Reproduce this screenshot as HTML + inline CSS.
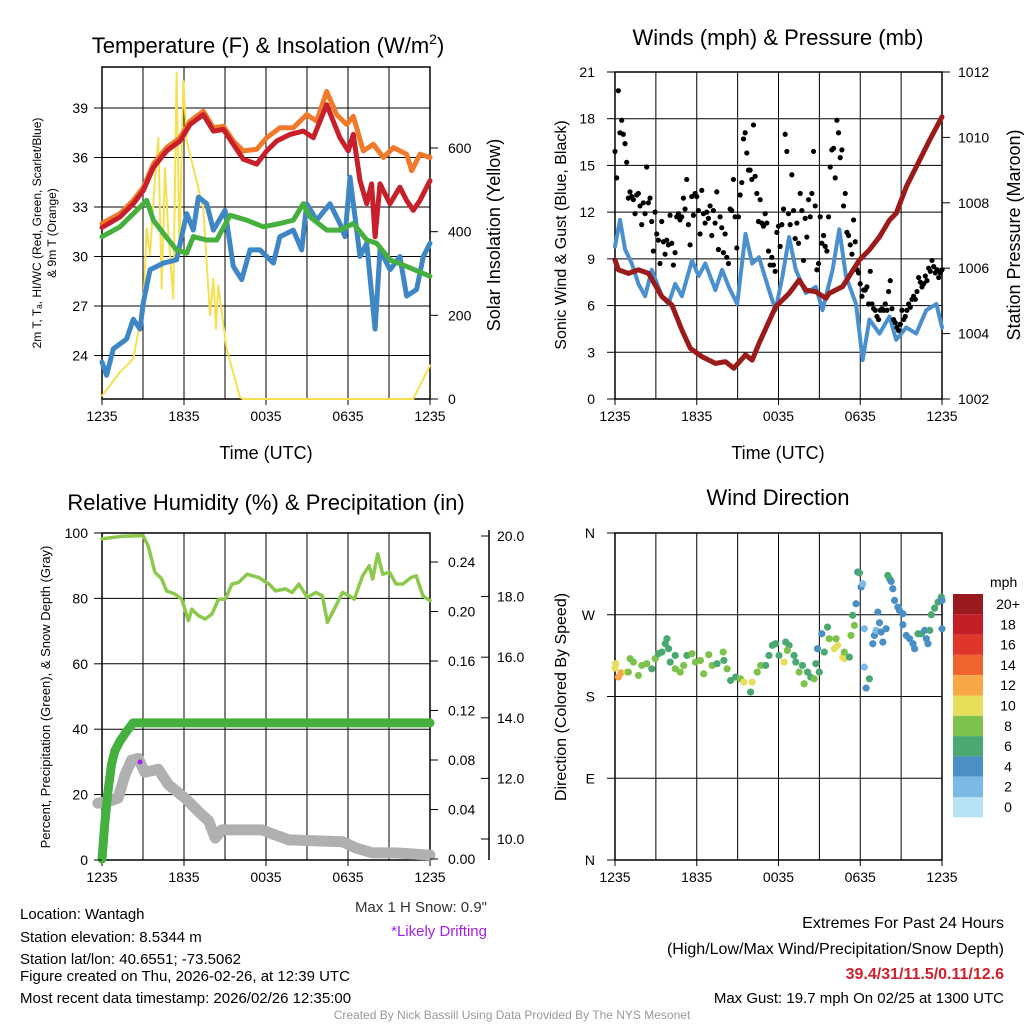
<!DOCTYPE html>
<html><head><meta charset="utf-8"><style>
html,body{margin:0;padding:0;background:#fff;}
svg{display:block;font-family:"Liberation Sans",sans-serif;}
</style></head><body>
<svg id="chart" width="1024" height="1024" viewBox="0 0 1024 1024" xmlns="http://www.w3.org/2000/svg">
<g id="g1"></g>
<g id="g2"></g>
<g id="g3"></g>
<g id="g4"></g>
<g id="txt" font-size="15" fill="#000">
<text x="20" y="919">Location: Wantagh</text>
<text x="20" y="942">Station elevation: 8.5344 m</text>
<text x="20" y="964">Station lat/lon: 40.6551; -73.5062</text>
<text x="20" y="981">Figure created on Thu, 2026-02-26, at 12:39 UTC</text>
<text x="20" y="1003">Most recent data timestamp: 2026/02/26 12:35:00</text>
<text x="487" y="912" text-anchor="end" fill="#333">Max 1 H Snow: 0.9"</text>
<text x="487" y="936" text-anchor="end" fill="#a020f0">*Likely Drifting</text>
<text x="1004" y="928" text-anchor="end" font-size="16">Extremes For Past 24 Hours</text>
<text x="1004" y="954" text-anchor="end" font-size="16">(High/Low/Max Wind/Precipitation/Snow Depth)</text>
<text x="1004" y="979" text-anchor="end" font-size="16" font-weight="bold" fill="#d0202a">39.4/31/11.5/0.11/12.6</text>
<text x="1004" y="1003" text-anchor="end">Max Gust: 19.7 mph On 02/25 at 1300 UTC</text>
<text x="512" y="1019" text-anchor="middle" font-size="12" fill="#999">Created By Nick Bassill Using Data Provided By The NYS Mesonet</text>
</g>
</svg>
<script>
// ---------- data ----------
const xTickLabels = ["1235","1835","0035","0635","1235"];
// Panel 1 (hours since 1235 UTC)
const redHours = [0,1.32,2.29,3.02,3.76,4.73,5.71,6.44,7.41,8.15,8.88,9.61,10.34,11.32,12.05,12.78,13.76,14.73,15.46,16.44,17.41,18.02,18.39,18.88,19.37,19.73,19.98,20.34,21.07,21.8,22.29,22.78,23.27,24];
const tempRed = [31.76,32.4,33.2,34,35.4,36.4,37,38,38.6,37.6,37.7,36.8,35.9,35.6,36.4,37,37.4,37.6,37.2,39.2,37.2,36.4,37.4,34.6,33.2,34.4,31.2,34.4,33.2,34.2,33.4,32.8,33.4,34.6];
const orangeHours = [0,1.32,2.29,3.02,3.76,4.73,5.71,6.44,7.41,8.15,8.88,9.61,10.34,11.32,12.05,13.02,14,14.98,15.71,16.44,17.17,17.9,18.39,19.12,19.85,20.59,21.32,22.29,22.66,23.27,24];
const temp9mOrange = [32,32.6,33.4,34.2,35.6,36.6,37.2,38.2,38.8,37.8,37.9,37.0,36.4,36.5,37.2,37.8,37.8,38.6,38.2,40,38.6,38,38.5,36.4,36.8,36,36.6,36.2,35.2,36.2,36];
const greenHours = [0,1.32,2.54,3.27,3.76,4.49,5.46,6.2,6.68,7.66,8.39,9.37,10.59,11.8,13.02,14,14.73,15.22,16.44,17.41,18.39,19.37,20.1,21.07,22.29,24];
const dewGreen = [31.2,31.8,32.8,33.4,32.2,31.4,30.4,30.2,31.2,31,31,32.5,32.2,31.8,32,32.2,33.2,32.4,31.6,31.6,32,31,30.8,29.8,29.4,28.8];
const blueHours = [0,0.34,0.83,1.8,2.29,2.78,3.02,3.51,4.49,5.46,6.2,6.68,7.05,7.66,8.15,9,9.61,10.22,10.83,11.56,12.54,13.02,14,14.61,14.98,15.71,16.68,17.41,17.78,18.15,18.88,19.37,19.98,20.34,21.07,21.8,22.29,23.02,23.51,24];
const wcBlue = [23.6,22.8,24.4,25,26.2,25.6,27.2,29.2,29.6,29.8,32.6,31.6,33.6,33.2,31.6,32.8,29.4,28.6,30.4,30.4,29.6,31.2,31.6,30.4,33.2,32.2,33.2,32,31.2,34.8,30,30.8,25.6,30.4,29.2,30,27.6,28,30,30.8];
const solarHours = [0,1.32,2.29,3.02,3.27,3.51,3.88,4.12,4.37,4.61,4.85,5.22,5.46,5.66,5.95,6.2,6.93,7.41,7.9,8.15,8.34,8.51,9.12,10.1,10.34,22.78,24];
const solarVals = [8,64,96,224,408,344,528,624,264,552,400,240,780,352,760,616,520,456,200,288,168,272,120,4,0,0,80];
const tempTicks = [24,27,30,33,36,39];
const solarTicks = [0,200,400,600];
// Panel 2
const windHours = [0,0.37,0.74,1.23,1.72,2.21,2.7,3.44,3.93,4.42,4.91,5.65,6.14,6.63,7.37,7.86,8.35,8.97,9.58,10.07,10.57,11.3,11.79,12.29,12.78,13.27,14,14.74,15.23,15.97,16.46,16.95,17.69,18.18,18.67,19.41,20.15,20.64,21.38,22.11,22.85,23.59,24];
const windSpeed = [9.8,11.5,9.6,8.7,7.4,6.6,8.3,6.6,6.1,7.4,6.6,8.9,7.9,8.7,7,8.3,7.2,6.1,10.6,8.7,9.1,7,5.7,7.9,10.4,8.3,6.8,7.2,5.7,8.3,10.9,7.9,6.1,2.5,5.1,4.2,5.3,3.8,4.6,4.2,5.7,6.1,4.6];
const gustStartHour = 0;
const gustStepHours = 24/196;
const gustVals = [15.9,14.2,19.8,17.1,17.9,17.0,16.4,15.2,12.9,13.3,13.0,12.8,11.9,13.1,13.2,12.4,11.2,12.6,11.9,14.9,12.6,12.9,11.4,9.5,12.0,10.6,10.2,8.7,11.4,10.1,9.3,10.2,9.9,11.8,10.0,8.6,9.4,11.7,11.9,11.5,11.7,12.9,12.2,14.1,11.2,9.9,13.0,11.8,13.2,13.0,12.1,10.6,13.4,11.9,11.3,12.0,11.6,12.4,10.5,12.1,11.3,13.3,9.6,11.7,11.0,9.4,10.6,9.1,8.7,12.2,12.1,14.1,11.7,9.7,11.7,13.1,13.9,16.7,17.1,15.8,14.7,14.7,14.1,17.6,14.3,13.2,11.4,12.8,11.3,11.1,11.9,11.3,9.5,8.6,9.1,8.6,8.2,10.7,11.1,9.8,11.2,12.2,17.0,15.9,11.9,11.2,14.4,12.1,10.3,11.3,10.0,13.2,12.1,8.9,11.6,10.4,12.8,11.7,13.2,15.9,12.4,8.3,8.7,11.7,10.0,10.5,9.8,9.5,11.7,14.9,16.0,16.1,14.2,17.9,17.1,15.5,16.0,12.4,13.2,10.7,10.5,9.9,9.3,11.5,10.1,8.3,8.1,7.4,6.6,7.0,7.0,7.2,6.1,8.2,6.1,5.8,5.7,5.3,5.1,5.7,5.8,5.7,6.1,5.7,6.9,7.6,5.8,5.1,4.9,4.6,4.4,4.8,5.7,5.1,5.3,5.7,6.1,5.9,6.4,6.6,6.4,6.9,7.8,7.5,7.2,7.4,7.9,7.6,8.4,8.2,8.9,8.5,8.1,8.3,7.8,8.1,8.3];
const presHours = [0,0.25,0.98,1.72,2.46,3.44,4.18,4.91,5.53,6.39,7.37,8.11,8.72,9.58,10.07,10.57,11.79,12.78,13.51,14,14.74,15.48,15.72,16.71,17.94,18.67,19.41,20.15,20.64,21.38,22.36,23.1,24];
const pressure = [1006.25,1005.95,1005.84,1005.95,1005.84,1005.13,1004.87,1004.11,1003.55,1003.29,1003.09,1003.14,1002.94,1003.35,1003.19,1003.7,1004.82,1005.23,1005.64,1005.33,1005.28,1005.08,1005.23,1005.44,1006.25,1006.56,1006.96,1007.47,1007.68,1008.49,1009.31,1009.92,1010.63];
const windTicks = [0,3,6,9,12,15,18,21];
const presTicks = [1002,1004,1006,1008,1010,1012];
// Panel 3
const rhHours = [0,1.42,3.01,3.38,3.87,4.36,4.73,5.34,5.83,6.32,6.57,7.06,7.55,8.04,8.53,9.02,9.51,10,10.61,11.47,12.21,12.7,13.43,13.92,14.41,15.02,15.64,16.13,16.49,16.99,17.6,18.09,18.46,19.07,19.56,19.8,20.17,20.54,21.03,21.52,22.01,22.62,22.99,23.48,24];
const rhVals = [98.2,99,99.2,96,88,86,82.3,81.3,79.8,73.2,76.7,74.7,73.7,75.2,79.8,79.8,84.4,84.9,87.4,86.4,84.4,82.3,82.9,81.8,84.4,80.3,81.8,80.8,72.7,76.7,81.8,80.8,79.8,86.9,90,85.9,93.6,87.4,88,84.4,84.4,86.4,86.9,80.8,79.3];
const precipHours = [0,0.2,0.44,0.69,0.93,1.3,1.79,2.28,24];
const precipVals = [0,0.028,0.055,0.076,0.087,0.095,0.103,0.11,0.11];
const snowHours = [-0.3,0.44,1.18,1.67,2.16,2.65,3.14,4.12,4.85,6.08,7.3,7.8,8.28,8.77,11.7,12.7,13.7,17.6,18.6,19.8,21.5,24];
const snowVals = [11.18,11.23,11.35,12.1,12.6,12.66,12.2,12.3,11.8,11.35,10.8,10.6,10.03,10.3,10.3,10.13,9.97,9.91,9.7,9.54,9.54,9.47];
const rhTicks = [0,20,40,60,80,100];
const precipTicks = [0,0.04,0.08,0.12,0.16,0.20,0.24];
const snowTicks = [10,12,14,16,18,20];
// Panel 4
const dirHours = [0,0.05,0.25,0.44,0.86,0.98,1.11,1.35,1.72,1.97,2.33,2.7,2.95,3.19,3.44,3.69,3.81,3.93,4.05,4.42,4.42,4.79,5.04,5.28,5.65,5.9,6.27,6.51,6.88,7.13,7.49,7.94,7.99,8.23,8.48,8.85,9.21,9.46,9.95,10.07,10.44,10.69,11.06,11.3,11.55,11.79,12.04,12.41,12.53,12.78,12.65,13.14,13.27,13.51,13.76,13.88,14.13,14.37,14.62,14.74,14.86,14.99,15.18,15.36,15.6,15.72,16.09,16.22,16.34,16.71,16.83,16.83,17.2,17.32,17.57,17.44,17.69,17.81,17.94,18.06,18.18,18.3,18.3,18.43,18.67,19.04,18.92,19.16,19.29,19.41,19.53,19.66,19.9,20.02,20.15,20.27,20.39,20.52,20.76,20.88,21.13,21.13,21.38,21.62,21.87,21.99,22.24,22.48,22.73,22.85,22.97,23.1,23.22,23.46,23.71,23.95,24,24];
const dirDeg = [211.3,216.1,201.4,206.1,206.9,206.9,221.6,217.9,203.2,214.2,216.1,210.5,221.6,227.1,228.9,238.1,243.6,232.6,217.9,225.2,210.5,206.9,214.2,225.2,227.1,217.9,219.7,205.0,226.0,214.2,216.1,228.9,219.7,210.5,197.7,201.4,199.5,195.9,184.9,195.9,206.9,214.2,214.2,225.2,236.3,238.1,225.2,217.9,239.9,236.3,230.7,225.2,217.9,206.9,214.2,194.0,206.9,201.4,199.5,216.1,232.6,206.9,249.1,228.9,256.4,243.6,232.6,243.6,236.3,223.4,221.6,228.9,223.4,247.2,258.3,269.3,282.1,317.0,316.2,300.5,304.1,254.6,212.4,189.3,199.5,247.2,238.1,252.8,272.9,261.2,250.9,239.9,254.6,313.3,309.6,306.7,298.6,285.8,278.4,274.8,271.1,259.0,247.2,243.6,238.1,232.6,249.1,249.1,252.8,243.6,238.1,252.8,270.0,277.3,283.9,289.5,254.6,285.8];
const dirSpeed = [10,10,12,12,10,8,8,8,8,8,8,6,8,6,6,6,6,6,6,6,8,8,8,6,8,8,8,8,8,8,6,8,6,8,6,6,8,10,6,10,8,8,6,6,6,6,6,10,6,6,8,6,6,8,6,8,6,6,8,6,4,6,4,6,6,8,10,8,10,10,10,8,6,8,8,6,4,4,6,4,2,2,2,4,6,4,4,2,4,4,4,4,4,6,6,4,4,4,4,4,4,4,4,4,4,4,6,6,4,4,4,6,6,6,6,6,4,4];
const cbLabels = ["20+","18","16","14","12","10","8","6","4","2","0"];
const cbColors = ["#9b1a1f","#c21f27","#e0352b","#f0632c","#f7a648","#e7df5b","#7dc24c","#4aa870","#4a8fc6","#7cb9e4","#b8e2f6"];

// ---------- helpers ----------
const NS="http://www.w3.org/2000/svg";
function mk(parent,tag,attrs,text){const e=document.createElementNS(NS,tag);for(const k in attrs)e.setAttribute(k,attrs[k]);if(text!==undefined)e.textContent=text;parent.appendChild(e);return e;}
function lin(d0,d1,r0,r1){return v=>r0+(v-d0)*(r1-r0)/(d1-d0);}
function frame(g,x0,x1,y0,y1,yTicksPos){
  for(let i=0;i<=8;i++){const x=x0+(x1-x0)*i/8;
    const l=mk(g,'line',{x1:x,x2:x,y1:y0,y2:y1,stroke:'#000','stroke-width':1});
    
    }
  yTicksPos.forEach(y=>{const l=mk(g,'line',{x1:x0,x2:x1,y1:y,y2:y,stroke:'#000','stroke-width':1});
    
    });
  const r=mk(g,'rect',{x:x0,y:y0,width:x1-x0,height:y1-y0,fill:'none',stroke:'#000','stroke-width':1.5});
  
  
  xTickLabels.forEach((s,i)=>{const x=x0+(x1-x0)*i/4;
    const t=mk(g,'text',{x:x,y:y1+22,'font-size':14,'text-anchor':'middle'},s);
    
    
    mk(g,'line',{x1:x,x2:x,y1:y1,y2:y1+6,stroke:'#000'});});
}
function poly(g,xs,ys,sx,sy,color,w,name){
  const pts=xs.map((h,i)=>sx(h).toFixed(1)+','+sy(ys[i]).toFixed(1)).join(' ');
  const p=mk(g,'polyline',{points:pts,fill:'none',stroke:color,'stroke-width':w,'stroke-linejoin':'round','stroke-linecap':'round'});
  
  
  return p;
}
function txt(g,x,y,s,attrs,name){const t=mk(g,'text',Object.assign({x:x,y:y},attrs),s);
  
  return t;}

// ---------- Panel 1 ----------
(function(){
 const g=document.getElementById('g1');
 const X0=102,X1=430,Y0=67,Y1=399;
 const sx=lin(0,24,X0,X1), sy=lin(24,39,355.5,108), ss=lin(0,600,399,148);
 frame(g,X0,X1,Y0,Y1,tempTicks.map(sy));
 poly(g,solarHours,solarVals,sx,ss,'#f5e050',2,'solar-line');
 poly(g,blueHours,wcBlue,sx,sy,'#3f86c4',5,'windchill-line');
 poly(g,greenHours,dewGreen,sx,sy,'#45b03e',5,'dewpoint-line');
 poly(g,orangeHours,temp9mOrange,sx,sy,'#f07a2a',5,'temp-9m-line');
 poly(g,redHours,tempRed,sx,sy,'#c8202a',5,'temp-2m-line');
 tempTicks.forEach(v=>{txt(g,X0-14,sy(v)+5,String(v),{'font-size':14,'text-anchor':'end'},'y-tick-label');mk(g,'line',{x1:X0-8,x2:X0,y1:sy(v),y2:sy(v),stroke:'#000'});});
 solarTicks.forEach(v=>{txt(g,X1+18,ss(v)+5,String(v),{'font-size':14},'y2-tick-label');mk(g,'line',{x1:X1,x2:X1+8,y1:ss(v),y2:ss(v),stroke:'#000'});});
 const t=txt(g,268,53,'Temperature (F) & Insolation (W/m',{'font-size':22,'text-anchor':'middle'},'chart-title');
 mk(t,'tspan',{'font-size':14,dy:-9},'2');mk(t,'tspan',{dy:9},')');
 txt(g,266,459,'Time (UTC)',{'font-size':18,'text-anchor':'middle'},'x-axis-title');
 txt(g,0,0,'2m T, T\u2090, HI/WC (Red, Green, Scarlet/Blue)',{'font-size':12,'text-anchor':'middle',transform:'translate(41,233) rotate(-90)'},'y-axis-title');
 txt(g,0,0,'& 9m T (Orange)',{'font-size':12,'text-anchor':'middle',transform:'translate(56,233) rotate(-90)'},'y-axis-title-2');
 txt(g,0,0,'Solar Insolation (Yellow)',{'font-size':18,'text-anchor':'middle',transform:'translate(500,235) rotate(-90)'},'y2-axis-title');
})();

// ---------- Panel 2 ----------
(function(){
 const g=document.getElementById('g2');
 const X0=615,X1=942,Y0=72,Y1=399;
 const sx=lin(0,24,X0,X1), sy=lin(0,21,399,72), sp=lin(1002,1012,399,72);
 frame(g,X0,X1,Y0,Y1,windTicks.map(sy));
 poly(g,windHours,windSpeed,sx,sy,'#4a90cf',4,'wind-speed-line');
 gustVals.forEach((v,i)=>{const c=mk(g,'circle',{cx:sx(gustStartHour+i*gustStepHours),cy:sy(v),r:2.6,fill:'#000'});
   
   });
 poly(g,presHours,pressure,sx,sp,'#9b1a1a',5,'pressure-line');
 windTicks.forEach(v=>{txt(g,X0-20,sy(v)+5,String(v),{'font-size':14,'text-anchor':'end'},'y-tick-label');mk(g,'line',{x1:X0-8,x2:X0,y1:sy(v),y2:sy(v),stroke:'#000'});});
 presTicks.forEach(v=>{txt(g,X1+16,sp(v)+5,String(v),{'font-size':14},'y2-tick-label');mk(g,'line',{x1:X1,x2:X1+8,y1:sp(v),y2:sp(v),stroke:'#000'});});
 txt(g,778,45,'Winds (mph) & Pressure (mb)',{'font-size':22,'text-anchor':'middle'},'chart-title');
 txt(g,778,459,'Time (UTC)',{'font-size':18,'text-anchor':'middle'},'x-axis-title');
 txt(g,0,0,'Sonic Wind & Gust (Blue, Black)',{'font-size':16,'text-anchor':'middle',transform:'translate(566,235) rotate(-90)'},'y-axis-title');
 txt(g,0,0,'Station Pressure (Maroon)',{'font-size':18,'text-anchor':'middle',transform:'translate(1020,235) rotate(-90)'},'y2-axis-title');
})();

// ---------- Panel 3 ----------
(function(){
 const g=document.getElementById('g3');
 const X0=102,X1=430,Y0=533,Y1=860;
 const sx=lin(0,24,X0,X1), sy=lin(0,100,860,533), sp=lin(0,0.24,859,562), sn=lin(10,20,839,536);
 frame(g,X0,X1,Y0,Y1,rhTicks.map(sy));
 poly(g,snowHours,snowVals,sx,sn,'#b0b0b0',11,'snow-depth-line');
 poly(g,precipHours,precipVals,sx,sp,'#45b03e',9,'precip-line');
 poly(g,rhHours,rhVals,sx,sy,'#8cc84b',3.5,'rh-line');
 const pd=mk(g,'circle',{cx:140,cy:762,r:2.5,fill:'#a020f0'});
 
 
 rhTicks.forEach(v=>{txt(g,X0-14,sy(v)+5,String(v),{'font-size':14,'text-anchor':'end'},'y-tick-label');mk(g,'line',{x1:X0-8,x2:X0,y1:sy(v),y2:sy(v),stroke:'#000'});});
 precipTicks.forEach(v=>{txt(g,X1+18,sp(v)+5,v.toFixed(2),{'font-size':14},'y2-tick-label');mk(g,'line',{x1:X1,x2:X1+8,y1:sp(v),y2:sp(v),stroke:'#000'});});
 mk(g,'line',{x1:489,x2:489,y1:530,y2:860,stroke:'#000','stroke-width':1.5});
 snowTicks.forEach(v=>{txt(g,497,sn(v)+5,v.toFixed(1),{'font-size':14},'y3-tick-label');mk(g,'line',{x1:481,x2:489,y1:sn(v),y2:sn(v),stroke:'#000'});});
 txt(g,266,510,'Relative Humidity (%) & Precipitation (in)',{'font-size':22,'text-anchor':'middle'},'chart-title');
 txt(g,0,0,'Percent, Precipitation (Green), & Snow Depth (Gray)',{'font-size':13,'text-anchor':'middle',transform:'translate(50,697) rotate(-90)'},'y-axis-title');
})();

// ---------- Panel 4 ----------
(function(){
 const g=document.getElementById('g4');
 const X0=615,X1=942,Y0=533,Y1=860;
 const sx=lin(0,24,X0,X1), sd=lin(0,360,860,533);
 const dirTicks=[0,90,180,270,360], dirLab=["N","E","S","W","N"];
 frame(g,X0,X1,Y0,Y1,dirTicks.map(sd));
 function col(s){const i=Math.min(10,Math.floor(s/2));return cbColors[10-i];}
 dirDeg.forEach((v,i)=>{const c=mk(g,'circle',{cx:sx(dirHours[i]),cy:sd(v),r:3.6,fill:col(dirSpeed[i])});
   
   });
 dirTicks.forEach((v,i)=>{txt(g,X0-20,sd(v)+5,dirLab[i],{'font-size':14,'text-anchor':'end'},'y-tick-label');mk(g,'line',{x1:X0-8,x2:X0,y1:sd(v),y2:sd(v),stroke:'#000'});});
 txt(g,778,505,'Wind Direction',{'font-size':22,'text-anchor':'middle'},'chart-title');
 txt(g,0,0,'Direction (Colored By Speed)',{'font-size':16,'text-anchor':'middle',transform:'translate(566,697) rotate(-90)'},'y-axis-title');
 txt(g,990,587,'mph',{'font-size':14},'colorbar-title');
 cbColors.forEach((c,i)=>{const r=mk(g,'rect',{x:953,y:594+i*20.3,width:30,height:20.3,fill:c});
   
   
   txt(g,1008,609+i*20.3,cbLabels[i],{'font-size':14,'text-anchor':'middle'},'colorbar-label');});
})();
</script>
</body></html>
